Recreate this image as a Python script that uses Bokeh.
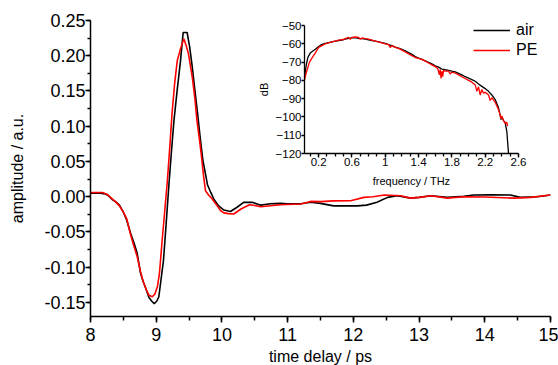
from bokeh.plotting import figure
from bokeh.layouts import column
from bokeh.models import (SingleIntervalTicker, FixedTicker, NumeralTickFormatter,
                          Legend, LegendItem, GridBox, Range1d)
from bokeh.embed import file_html
from bokeh.resources import INLINE

# ---- main panel: time-domain pulses ----
time_air = [8.00, 8.15, 8.22, 8.27, 8.33, 8.38, 8.44, 8.50,
            8.55, 8.61, 8.66, 8.71, 8.76, 8.80, 8.84, 8.89,
            8.93, 8.97, 9.01, 9.04, 9.07, 9.11, 9.15, 9.19,
            9.23, 9.27, 9.32, 9.37, 9.41, 9.47, 9.51, 9.55,
            9.59, 9.63, 9.67, 9.71, 9.75, 9.78, 9.83, 9.88,
            9.95, 10.03, 10.13, 10.23, 10.33, 10.46, 10.59, 10.74,
            10.89, 10.99, 11.20, 11.35, 11.50, 11.70, 11.90, 12.06,
            12.20, 12.36, 12.52, 12.67, 12.87, 13.00, 13.18, 13.43,
            13.68, 13.83, 14.10, 14.39, 14.54, 14.80, 15.00]
amp_air = [0.005, 0.005, 0.004, 0.0015, -0.004, -0.007, -0.012, -0.022,
           -0.033, -0.052, -0.065, -0.080, -0.108, -0.120, -0.130, -0.143,
           -0.148, -0.152, -0.148, -0.142, -0.120, -0.091, -0.040, 0.013,
           0.062, 0.108, 0.152, 0.193, 0.233, 0.233, 0.212, 0.183,
           0.150, 0.118, 0.083, 0.052, 0.032, 0.017, 0.006, -0.004,
           -0.013, -0.019, -0.021, -0.015, -0.008, -0.008, -0.012, -0.010,
           -0.0095, -0.010, -0.010, -0.008, -0.0095, -0.013, -0.013, -0.013,
           -0.012, -0.008, -0.001, 0.0014, -0.002, -0.001, 0.0014, -0.001,
           0.0005, 0.0024, 0.0026, 0.0024, -0.001, 0.0, 0.0024]

time_pe = [8.00, 8.18, 8.26, 8.33, 8.38, 8.44, 8.50, 8.55,
           8.61, 8.66, 8.71, 8.76, 8.80, 8.85, 8.89, 8.94,
           8.98, 9.02, 9.05, 9.09, 9.13, 9.17, 9.21, 9.24,
           9.28, 9.32, 9.37, 9.42, 9.46, 9.49, 9.55, 9.59,
           9.62, 9.66, 9.69, 9.72, 9.75, 9.80, 9.85, 9.92,
           9.98, 10.03, 10.10, 10.18, 10.29, 10.42, 10.50, 10.59,
           10.74, 10.89, 11.20, 11.35, 11.50, 11.70, 11.96, 12.16,
           12.30, 12.47, 12.72, 12.87, 13.00, 13.18, 13.43, 13.68,
           14.00, 14.44, 14.70, 15.00]
amp_pe = [0.006, 0.006, 0.003, -0.003, -0.007, -0.013, -0.022, -0.031,
          -0.054, -0.070, -0.085, -0.106, -0.120, -0.132, -0.140, -0.142,
          -0.138, -0.127, -0.108, -0.0625, -0.020, 0.023, 0.075, 0.117,
          0.160, 0.193, 0.210, 0.224, 0.213, 0.203, 0.169, 0.138,
          0.108, 0.080, 0.056, 0.030, 0.0085, 0.002, -0.003, -0.012,
          -0.020, -0.023, -0.024, -0.0246, -0.0175, -0.0114, -0.0125, -0.0142,
          -0.0128, -0.0114, -0.0104, -0.0067, -0.007, -0.006, -0.0057, -0.001,
          0.000, 0.0024, 0.0014, -0.002, -0.001, 0.0014, -0.002, 0.000,
          -0.0005, -0.002, -0.001, 0.0024]

# ---- inset: spectra ----
freq_air = [0.03, 0.05, 0.07, 0.10, 0.13, 0.16, 0.20, 0.24,
            0.28, 0.32, 0.36, 0.40, 0.44, 0.48, 0.52, 0.56,
            0.60, 0.64, 0.68, 0.72, 0.76, 0.80, 0.84, 0.88,
            0.92, 0.96, 1.00, 1.04, 1.08, 1.12, 1.16, 1.20,
            1.24, 1.28, 1.32, 1.36, 1.40, 1.44, 1.48, 1.52,
            1.56, 1.60, 1.64, 1.68, 1.72, 1.76, 1.80, 1.84,
            1.88, 1.92, 1.96, 2.00, 2.04, 2.08, 2.12, 2.16,
            2.20, 2.24, 2.28, 2.32, 2.36, 2.38, 2.39, 2.40,
            2.42, 2.44, 2.46, 2.47, 2.48]
db_air = [-78, -72, -67.5, -65, -64, -63, -61.5, -60.3,
          -59.8, -59.4, -59, -58.6, -58.2, -58, -57.4, -57,
          -56.8, -56.6, -57, -57.2, -57.5, -57.8, -58.2, -58.6,
          -59, -59.4, -59.8, -60.5, -61, -61.8, -62.4, -63,
          -63.8, -64.8, -65.8, -67, -67.8, -68.5, -69.3, -70.2,
          -71, -72, -72.8, -73.8, -74.2, -74.5, -75, -75.4,
          -76.2, -77, -78, -78.8, -79.6, -80.5, -82, -83.3,
          -84.5, -86, -88, -90.5, -95, -99, -101.5, -100,
          -102, -103, -108, -114, -120]

freq_pe = [0.03, 0.05, 0.07, 0.09, 0.11, 0.13, 0.16, 0.20,
           0.24, 0.28, 0.32, 0.36, 0.40, 0.44, 0.48, 0.52,
           0.56, 0.58, 0.60, 0.64, 0.68, 0.70, 0.72, 0.76,
           0.80, 0.84, 0.88, 0.92, 0.96, 1.00, 1.04, 1.06,
           1.08, 1.12, 1.16, 1.20, 1.24, 1.28, 1.32, 1.36,
           1.40, 1.44, 1.48, 1.52, 1.56, 1.60, 1.63, 1.65,
           1.66, 1.67, 1.68, 1.69, 1.70, 1.72, 1.76, 1.78,
           1.80, 1.84, 1.88, 1.92, 1.96, 2.00, 2.04, 2.08,
           2.10, 2.12, 2.14, 2.16, 2.18, 2.20, 2.24, 2.26,
           2.28, 2.32, 2.36, 2.38, 2.39, 2.40, 2.42, 2.44,
           2.46, 2.47]
db_pe = [-80, -76, -73, -70, -68.5, -67, -65, -62,
         -61, -60, -59.5, -59, -58.5, -58, -57.8, -57.2,
         -56.5, -57.5, -56.5, -56.3, -56.5, -57.5, -56.8, -57.2,
         -57.5, -58, -58.5, -59, -59.5, -60, -60.5, -62,
         -61, -62, -62.5, -63.5, -64.5, -65.5, -66.5, -67.5,
         -68, -68.5, -69.5, -70.5, -71.5, -72.5, -73.5, -77,
         -74, -79, -75, -78, -74.5, -75, -75, -76.5,
         -75.5, -76, -77, -78, -79, -80, -81, -82.5,
         -86, -83.5, -88, -85, -87, -86.5, -88, -91,
         -89.5, -92, -96, -99, -101, -99.5, -102, -103.5,
         -103, -105]

inset_xticks = [0.2, 0.6, 1.0, 1.4, 1.8, 2.2, 2.6]
inset_xminor = [0.1, 0.2, 0.3, 0.4, 0.5, 0.6, 0.7, 0.8, 0.9, 1.0, 1.1, 1.2, 1.3,
                1.4, 1.5, 1.6, 1.7, 1.8, 1.9, 2.0, 2.1, 2.2, 2.3, 2.4, 2.5, 2.6]
inset_yticks = [-120, -110, -100, -90, -80, -70, -60, -50]
series_labels = ["air", "PE"]

FONT = "Liberation Sans"


def style_axis(ax, label_size, tick_size, width, tick_out, minor_out, standoff, label_standoff):
    ax.axis_label_text_font = FONT
    ax.axis_label_text_font_style = "normal"
    ax.axis_label_text_font_size = label_size
    ax.axis_label_text_color = "black"
    ax.major_label_text_font = FONT
    ax.major_label_text_font_size = tick_size
    ax.major_label_text_color = "black"
    ax.axis_line_width = width
    ax.axis_line_color = "black"
    ax.major_tick_line_width = width
    ax.minor_tick_line_width = width
    ax.major_tick_line_color = "black"
    ax.minor_tick_line_color = "black"
    ax.major_tick_in = 0
    ax.minor_tick_in = 0
    ax.major_tick_out = tick_out
    ax.minor_tick_out = minor_out
    ax.major_label_standoff = standoff
    ax.axis_label_standoff = label_standoff


p = figure(frame_width=460, frame_height=296, x_range=Range1d(8, 15), y_range=Range1d(-0.17, 0.25),
           output_backend="svg", toolbar_location=None,
           min_border_left=90, min_border_top=20, min_border_right=8, min_border_bottom=49)
p.grid.visible = False
p.outline_line_color = None
r_air = p.line(time_air, amp_air, line_color="black", line_width=1.6)
r_pe = p.line(time_pe, amp_pe, line_color="red", line_width=1.6)

p.xaxis.ticker = SingleIntervalTicker(interval=1, num_minor_ticks=2)
p.yaxis.ticker = SingleIntervalTicker(interval=0.05, num_minor_ticks=2)
p.yaxis.formatter = NumeralTickFormatter(format="0.00")
p.xaxis.axis_label = "time delay / ps"
p.yaxis.axis_label = "amplitude / a.u."
style_axis(p.xaxis[0], "16px", "18px", 1.5, 6, 4, 5, 4)
style_axis(p.yaxis[0], "16px", "18px", 1.5, 5, 3, 0, 15)

legend = Legend(items=[LegendItem(label=series_labels[0], renderers=[r_air]),
                       LegendItem(label=series_labels[1], renderers=[r_pe])],
                location=(383, 256), border_line_color=None, background_fill_alpha=0,
                padding=0, margin=0, spacing=0, glyph_width=37, glyph_height=20,
                label_height=20, label_standoff=6, label_text_font=FONT,
                label_text_font_size="16px", label_text_color="black")
p.add_layout(legend)

inset = figure(frame_width=214, frame_height=128, x_range=Range1d(0.03, 2.6), y_range=Range1d(-120, -50),
               output_backend="svg", toolbar_location=None,
               border_fill_color=None, background_fill_color=None,
               min_border_left=48, min_border_top=10, min_border_right=41, min_border_bottom=37)
inset.grid.visible = False
inset.outline_line_color = None
inset.line(freq_air, db_air, line_color="black", line_width=1.3)
inset.line(freq_pe, db_pe, line_color="red", line_width=1.3)
inset.xaxis.ticker = FixedTicker(ticks=inset_xticks, minor_ticks=inset_xminor)
inset.yaxis.ticker = FixedTicker(ticks=inset_yticks)
inset.xaxis.axis_label = "frequency / THz"
inset.yaxis.axis_label = "dB"
style_axis(inset.xaxis[0], "11px", "11.5px", 1.3, 4, 3, 0, 6)
style_axis(inset.yaxis[0], "11px", "11.5px", 1.3, 3, 0, 0, 3)

inset.margin = (15, 0, 0, 254)
inset_box = column(inset)
inset_box.align = "start"
p.align = "start"

grid = GridBox(children=[(p, 0, 0), (inset_box, 0, 0)])

open("out.html", "w").write(file_html(grid, INLINE))
